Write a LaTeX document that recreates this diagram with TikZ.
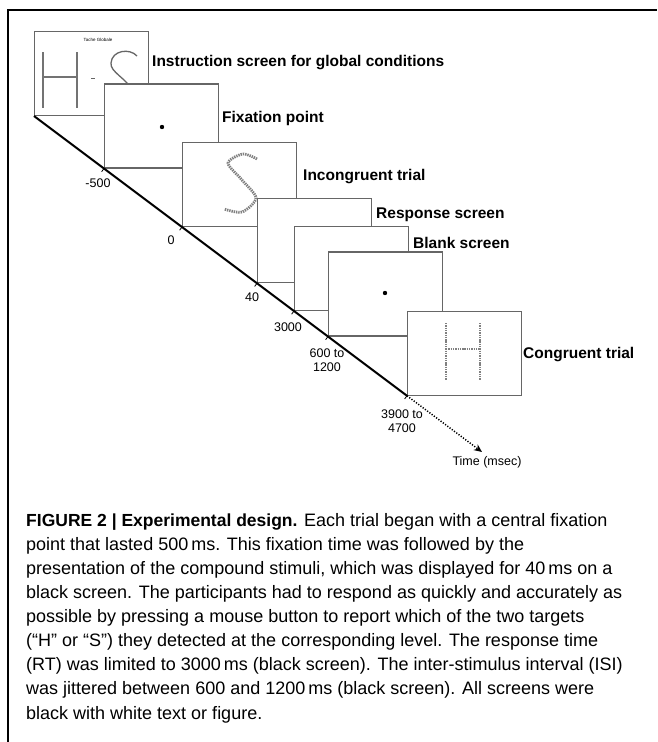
\documentclass[tikz,border=0pt]{standalone}
\usepackage{fontspec}
\setmainfont{Liberation Sans}
\usetikzlibrary{arrows.meta}

\begin{document}
\begin{tikzpicture}[x=1pt,y=-1pt,
        screen/.style={draw=black!60,line width=1.1pt,fill=white,minimum width=114pt,minimum height=84pt,inner sep=0pt,anchor=south west},
        tag/.style={font=\fontsize{15.5}{18}\selectfont\bfseries,anchor=base west,inner sep=0pt},
        ticklabel/.style={font=\fontsize{12.5}{14.5}\selectfont,align=center,inner sep=0pt},
        stim/.style={draw=black!55,line width=1.8pt},
        dotstim/.style={draw=black!50,line width=2.8pt,dash pattern=on 1.4pt off 0.9pt}]
        \useasboundingbox (0,0) rectangle (657,742);
        % frame of the figure box
        \draw[line width=2.6pt] (8,742) -- (8,10) -- (657,10);
        % corners of the screens on the time axis
        \coordinate (T0) at (34,116);
        \coordinate (T1) at (104,168.5);
        \coordinate (T2) at (182,227);
        \coordinate (T3) at (257,283.25);
        \coordinate (T4) at (294,311);
        \coordinate (T5) at (328,336.5);
        \coordinate (T6) at (407,395.75);
        \coordinate (Tend) at (482,452);
        % instruction screen
        \node[screen] (instr) at (T0) {};
        \node[font=\fontsize{4.5}{5}\selectfont,inner sep=0pt] (instrTitle) at (98,40) {Tache Globale};
        \draw[stim] (43,52) -- (43,108) (77,52) -- (77,108) (43,77) -- (77,77);
        \draw[black!60,line width=0.8pt] (91,78) -- (95,78);
        \draw[black!60,line width=1.3pt] (137,56) .. controls (130,48) and (112,50) .. (111,63) .. controls (110,72) and (126,78) .. (132,90);
        % fixation point
        \node[screen] (fixA) at (T1) {};
        \fill (162,127) circle (2.2);
        % incongruent trial
        \node[screen] (incong) at (T2) {};
        \draw[dotstim] plot[smooth] coordinates {(257,159) (243,154) (228,163) (242,180) (256,198) (242,212) (224,209)};
        % response and blank screens
        \node[screen] (resp) at (T3) {};
        \node[screen] (blank) at (T4) {};
        \node[screen] (fixB) at (T5) {};
        \fill (385,293) circle (2.2);
        % congruent trial
        \node[screen] (cong) at (T6) {};
        \draw[dotstim] (446,323) -- (446,380) (480,323) -- (480,380) (446,349) -- (480,349);
        % time axis
        \draw[line width=2pt] (instr.south west) -- (cong.south west);
        \draw[line width=1.5pt,dash pattern=on 1.2pt off 1.6pt,-{Stealth[length=8pt,width=7pt]}] (cong.south west) -- (Tend);
        \foreach \p in {T1,T2,T3,T4,T5,T6}
            \draw[line width=0.8pt] (\p) -- ++(-2.4,3.2);
        \node[ticklabel] (t500) at (98,183) {-500};
        \node[ticklabel] (t0) at (171,240) {0};
        \node[ticklabel] (t40) at (252,297) {40};
        \node[ticklabel] (t3000) at (288,327) {3000};
        \node[ticklabel] (t600) at (327,360) {600 to\\1200};
        \node[ticklabel] (t3900) at (402,421) {3900 to\\4700};
        \node[ticklabel] (tTime) at (487,462) {Time (msec)};
        % screen labels
        \node[tag] (lInstr) at (152,66.5) {Instruction screen for global conditions};
        \node[tag] (lFix) at (222,122.5) {Fixation point};
        \node[tag] (lIncong) at (303,180.5) {Incongruent trial};
        \node[tag] (lResp) at (376,218.5) {Response screen};
        \node[tag] (lBlank) at (413,248.5) {Blank screen};
        \node[tag] (lCong) at (523,358.5) {Congruent trial};
        % caption
        \node[anchor=north west,align=left,inner sep=0pt,font=\fontsize{18}{24.1}\selectfont] (caption) at (26,513) {%
            {\fontsize{17.5}{24.1}\selectfont\bfseries FIGURE 2 | Experimental design.} Each trial began with a central fixation\\
            point that lasted 500\,ms. This fixation time was followed by the\\
            presentation of the compound stimuli, which was displayed for 40\,ms on a\\
            black screen. The participants had to respond as quickly and accurately as\\
            possible by pressing a mouse button to report which of the two targets\\
            (“H” or “S”) they detected at the corresponding level. The response time\\
            (RT) was limited to 3000\,ms (black screen). The inter-stimulus interval (ISI)\\
            was jittered between 600 and 1200\,ms (black screen). All screens were\\
            black with white text or figure.};
\end{tikzpicture}
\end{document}
